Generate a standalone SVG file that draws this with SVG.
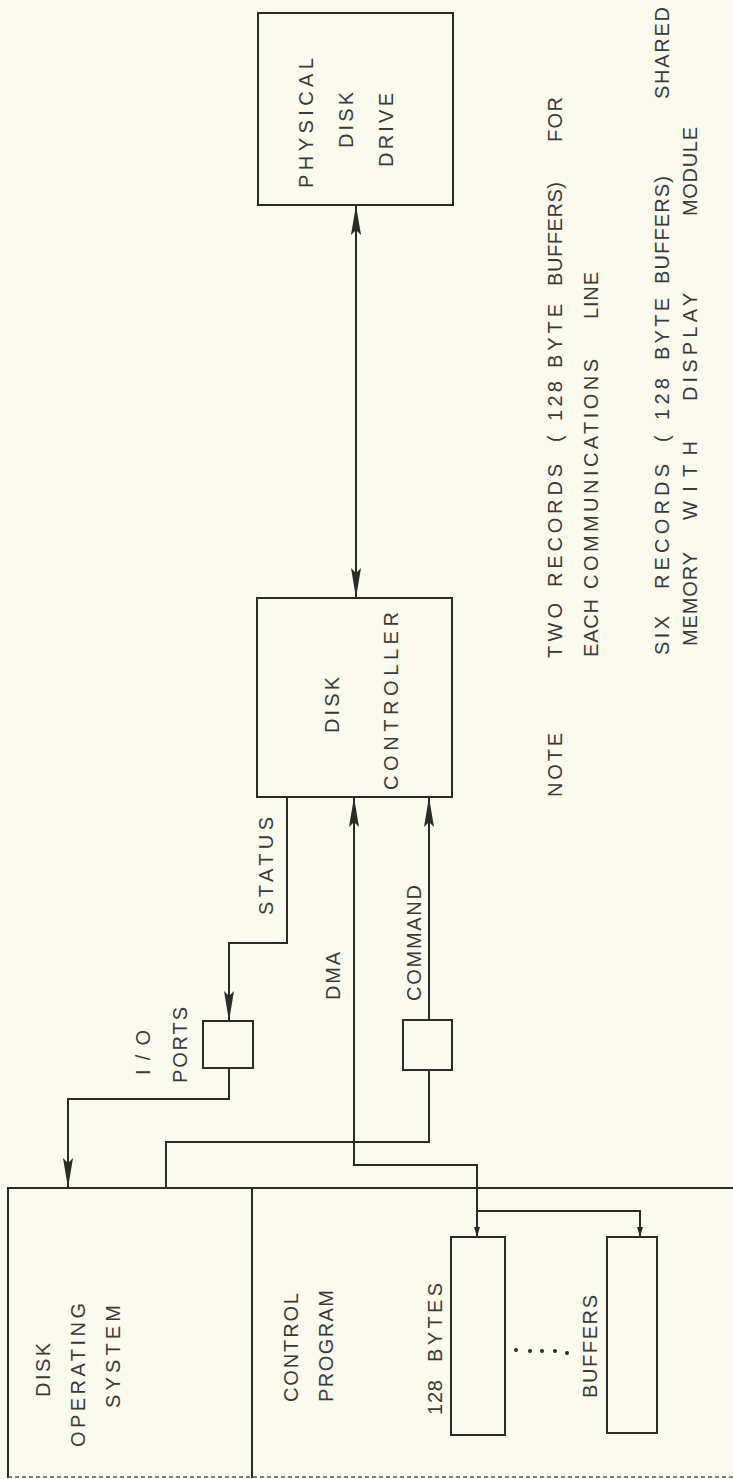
<svg xmlns="http://www.w3.org/2000/svg" width="733" height="1479" viewBox="0 0 733 1479">
<style>
.bg{fill:#fafaee}
.box{fill:none;stroke:#2b2b2b;stroke-width:2}
.ln{fill:none;stroke:#2b2b2b;stroke-width:2}
.t{font-family:"Liberation Sans",Arial,sans-serif;font-size:20px;fill:#3a3a3a}
</style>
<defs>
<marker id="arr" viewBox="0 0 30 11" refX="30" refY="5.5" markerWidth="30" markerHeight="11" markerUnits="userSpaceOnUse" orient="auto-start-reverse">
<path d="M0,0.5 L30,5.5 L0,10.5 L5,5.5 z" fill="#2b2b2b"/>
</marker>
<marker id="arrs" viewBox="0 0 10 6" refX="10" refY="3" markerWidth="10" markerHeight="6" markerUnits="userSpaceOnUse" orient="auto">
<path d="M0,0 L10,3 L0,6 z" fill="#2b2b2b"/>
</marker>
</defs>
<rect class="bg" x="0" y="0" width="733" height="1479"/>

<g id="memory">
<path class="box" d="M8,1478 V1188 H733"/>
<path class="box" d="M252,1188 V1478"/>
<path d="M8,1477 H733" fill="none" stroke="#555" stroke-width="1.5" stroke-dasharray="4 3"/>
</g>

<g id="dos">
<g transform="rotate(-90)">
<text class="t" x="-1397" y="50" textLength="54" lengthAdjust="spacing">DISK</text>
<text class="t" x="-1447" y="85" textLength="144" lengthAdjust="spacing">OPERATING</text>
<text class="t" x="-1408" y="120" textLength="103" lengthAdjust="spacing">SYSTEM</text>
</g>
</g>

<g id="control-program">
<g transform="rotate(-90)">
<text class="t" x="-1402" y="298" textLength="109" lengthAdjust="spacing">CONTROL</text>
<text class="t" x="-1402" y="333" textLength="112" lengthAdjust="spacing">PROGRAM</text>
<text class="t" x="-1415" y="442" textLength="35" lengthAdjust="spacing">128</text>
<text class="t" x="-1362" y="442" textLength="79" lengthAdjust="spacing">BYTES</text>
<text class="t" x="-1398" y="597" textLength="103" lengthAdjust="spacing">BUFFERS</text>
</g>
</g>

<g id="buffer1">
<rect class="box" x="451" y="1237" width="54" height="198"/>
</g>
<g id="buffer2">
<rect class="box" x="607" y="1237" width="50" height="196"/>
</g>
<g id="ellipsis" fill="#2b2b2b">
<circle cx="516" cy="1350" r="2"/>
<circle cx="530" cy="1351" r="2"/>
<circle cx="542" cy="1351" r="2"/>
<circle cx="555" cy="1351" r="2"/>
<circle cx="567" cy="1353" r="2"/>
</g>

<g id="io-ports">
<rect class="box" x="203" y="1021" width="50" height="47"/>
<g transform="rotate(-90)">
<text class="t" x="-1075" y="150" textLength="45" lengthAdjust="spacing">I/O</text>
<text class="t" x="-1083" y="187" textLength="76" lengthAdjust="spacing">PORTS</text>
</g>
</g>

<g id="command-port">
<rect class="box" x="403" y="1020" width="49" height="50"/>
</g>

<g id="disk-controller">
<rect class="box" x="257" y="598" width="195" height="199"/>
<g transform="rotate(-90)">
<text class="t" x="-733" y="339" textLength="56" lengthAdjust="spacing">DISK</text>
<text class="t" x="-790" y="398" textLength="178" lengthAdjust="spacing">CONTROLLER</text>
</g>
</g>

<g id="physical-disk-drive">
<rect class="box" x="258" y="13" width="195" height="192"/>
<g transform="rotate(-90)">
<text class="t" x="-188" y="313" textLength="130" lengthAdjust="spacing">PHYSICAL</text>
<text class="t" x="-148" y="353" textLength="56" lengthAdjust="spacing">DISK</text>
<text class="t" x="-167" y="393" textLength="74" lengthAdjust="spacing">DRIVE</text>
</g>
</g>

<g id="connectors">
<path class="ln" d="M356,205 V598" marker-start="url(#arr)" marker-end="url(#arr)"/>
<path class="ln" d="M287,797 V943 H229 V1021" marker-end="url(#arr)"/>
<path class="ln" d="M229,1068 V1099 H68 V1188" marker-end="url(#arr)"/>
<path class="ln" d="M166,1188 V1142 H429 V1070"/>
<path class="ln" d="M429,1020 V797" marker-end="url(#arr)"/>
<path class="ln" d="M477,1211 V1165 H354 V797" marker-end="url(#arr)"/>
<path class="ln" d="M477,1165 V1237" marker-end="url(#arrs)"/>
<path class="ln" d="M477,1211 H640 V1237" marker-end="url(#arrs)"/>
</g>

<g id="connector-labels">
<g transform="rotate(-90)">
<text class="t" x="-915" y="273" textLength="98" lengthAdjust="spacing">STATUS</text>
<text class="t" x="-1000" y="340" textLength="48" lengthAdjust="spacing">DMA</text>
<text class="t" x="-1001" y="421" textLength="116" lengthAdjust="spacing">COMMAND</text>
</g>
</g>

<g id="notes">
<g transform="rotate(-90)">
<text class="t" x="-797" y="562" textLength="64" lengthAdjust="spacing">NOTE</text>
<text class="t" x="-658" y="562" textLength="55" lengthAdjust="spacing">TWO</text>
<text class="t" x="-587" y="562" textLength="123" lengthAdjust="spacing">RECORDS</text>
<text class="t" x="-442" y="562">(</text>
<text class="t" x="-421" y="562" textLength="40" lengthAdjust="spacing">128</text>
<text class="t" x="-368" y="562" textLength="64" lengthAdjust="spacing">BYTE</text>
<text class="t" x="-286" y="562" textLength="104" lengthAdjust="spacing">BUFFERS)</text>
<text class="t" x="-142" y="562" textLength="45" lengthAdjust="spacing">FOR</text>

<text class="t" x="-657" y="598" textLength="58" lengthAdjust="spacing">EACH</text>
<text class="t" x="-589" y="598" textLength="230" lengthAdjust="spacing">COMMUNICATIONS</text>
<text class="t" x="-319" y="598" textLength="47" lengthAdjust="spacing">LINE</text>

<text class="t" x="-655" y="669" textLength="39" lengthAdjust="spacing">SIX</text>
<text class="t" x="-589" y="669" textLength="125" lengthAdjust="spacing">RECORDS</text>
<text class="t" x="-442" y="669">(</text>
<text class="t" x="-420" y="669" textLength="42" lengthAdjust="spacing">128</text>
<text class="t" x="-360" y="669" textLength="62" lengthAdjust="spacing">BYTE</text>
<text class="t" x="-284" y="669" textLength="108" lengthAdjust="spacing">BUFFERS)</text>
<text class="t" x="-99" y="669" textLength="92" lengthAdjust="spacing">SHARED</text>

<text class="t" x="-646" y="697" textLength="94" lengthAdjust="spacing">MEMORY</text>
<text class="t" x="-520" y="697" textLength="79" lengthAdjust="spacing">WITH</text>
<text class="t" x="-401" y="697" textLength="108" lengthAdjust="spacing">DISPLAY</text>
<text class="t" x="-216" y="697" textLength="89" lengthAdjust="spacing">MODULE</text>
</g>
</g>
</svg>
